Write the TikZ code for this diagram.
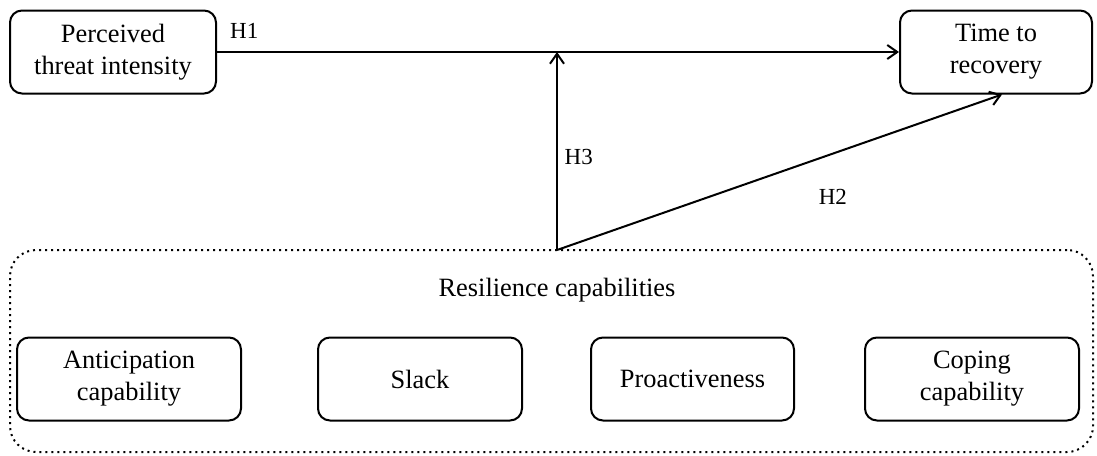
\documentclass[tikz,border=0pt]{standalone}
\usepackage{fontspec}
\setmainfont{Liberation Serif}
\usetikzlibrary{arrows.meta,positioning,calc}

\begin{document}
\begin{tikzpicture}[x=0.5pt,y=-0.5pt,
  box/.style={draw, line width=1pt, rounded corners=6pt, align=center, inner sep=0pt, minimum height=41.5pt, font=\fontsize{13.2}{16}\selectfont},
  arr/.style={line width=1pt, -{Straight Barb[length=5pt,width=7pt]}},
  hlab/.style={font=\fontsize{11.5}{13}\selectfont}]
\useasboundingbox (0,0) rectangle (1097,455);
% top row
\node[box, minimum width=103pt] (pti) at (113,52) {Perceived\\threat intensity};
\node[box, minimum width=96pt] (ttr) at (996,52) {Time to\\recovery};
% resilience group
\node[draw, dotted, line width=1pt, rounded corners=13pt, minimum width=541.5pt, minimum height=101pt, inner sep=0pt] (res) at (551.5,351) {};
\node[font=\fontsize{13.2}{16}\selectfont] (restitle) at (557,290) {Resilience capabilities};
\node[box, minimum width=112pt] (ant) at (129,379) {Anticipation\\capability};
\node[box, minimum width=102pt] (slack) at (420,379) {Slack};
\node[box, minimum width=101.5pt] (pro) at (692.5,379) {Proactiveness};
\node[box, minimum width=107pt] (cop) at (972,379) {Coping\\capability};
% paths
\coordinate (hub) at (557,250);
\coordinate (meet) at (557,52);
\draw[arr] (pti) -- (ttr) node[hlab, pos=0.04, above=3pt] {H1};
\draw[arr] (hub) -- (meet) node[hlab, pos=0.47, right=0pt] {H3};
\draw[arr] (hub) -- ($(ttr.south)+(6,0)$) node[hlab, pos=0.62, below=14pt] {H2};
\end{tikzpicture}
\end{document}
